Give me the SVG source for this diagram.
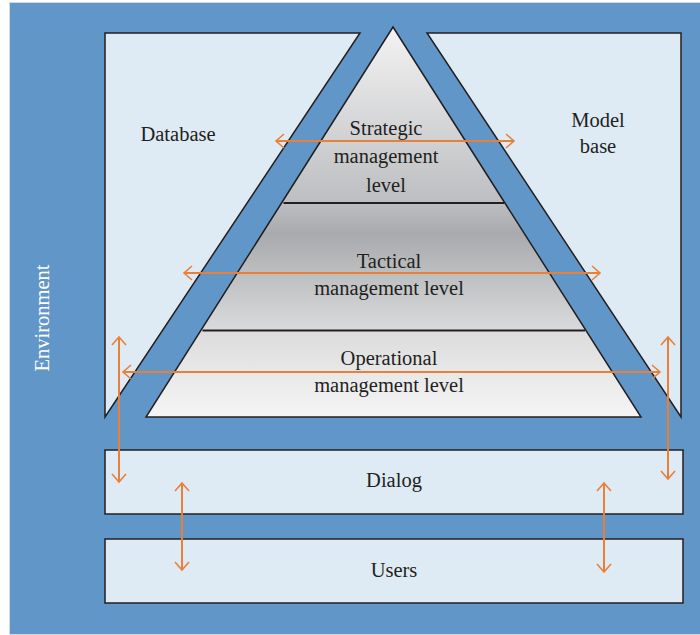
<svg xmlns="http://www.w3.org/2000/svg" width="700" height="635" viewBox="0 0 700 635">
<defs>
<style>
.panel{fill:#deeaf4;stroke:#231f20;stroke-width:1.5}
.sep{stroke:#231f20;stroke-width:2.2}
.lbl{font-family:"Liberation Serif","DejaVu Serif",serif;font-size:20.5px;fill:#231f20;text-anchor:middle}
.arr{stroke:#e8803a;stroke-width:2;fill:none;marker-start:url(#ah);marker-end:url(#ah)}
</style>
<linearGradient id="pg" gradientUnits="userSpaceOnUse" x1="0" y1="27" x2="0" y2="417">
<stop offset="0" stop-color="#f3f3f3"/>
<stop offset="0.451" stop-color="#bdbec1"/>
<stop offset="0.53" stop-color="#a9aaad"/>
<stop offset="0.775" stop-color="#d9dadb"/>
<stop offset="0.78" stop-color="#dcdcdd"/>
<stop offset="1" stop-color="#f5f5f6"/>
</linearGradient>
<marker id="ah" markerUnits="userSpaceOnUse" markerWidth="20" markerHeight="20" refX="0" refY="0" viewBox="-10 -10 20 20" orient="auto-start-reverse" overflow="visible">
<path d="M-8,-7 L0,0 L-8,7" fill="none" stroke="#e8803a" stroke-width="1.6"/>
</marker>
</defs>
<rect x="9.5" y="2.5" width="691" height="632" fill="#6196c8" stroke="#d4d9de" stroke-width="1"/>
<text class="lbl" transform="translate(49,318) rotate(-90)" style="fill:#ffffff">Environment</text>
<g id="database">
<polygon class="panel" points="105,33 360,33 105,417"/>
<text class="lbl" x="178" y="141">Database</text>
</g>
<g id="modelbase">
<polygon class="panel" points="427,33 681,33 681,417"/>
<text class="lbl" x="598" y="127">Model</text>
<text class="lbl" x="598" y="153">base</text>
</g>
<g id="pyramid">
<polygon points="393,27 641,417 146,417" fill="url(#pg)" stroke="#231f20" stroke-width="1.5"/>
<line class="sep" x1="283.5" y1="203" x2="504" y2="203"/>
<line class="sep" x1="202.5" y1="330.5" x2="585" y2="330.5"/>
</g>
<g id="strategic">
<text class="lbl" x="386" y="135">Strategic</text>
<text class="lbl" x="386" y="163">management</text>
<text class="lbl" x="386" y="192">level</text>
</g>
<g id="tactical">
<text class="lbl" x="389" y="268">Tactical</text>
<text class="lbl" x="389" y="295">management level</text>
</g>
<g id="operational">
<text class="lbl" x="389" y="365">Operational</text>
<text class="lbl" x="389" y="392">management level</text>
</g>
<g id="dialog">
<rect class="panel" x="105" y="450" width="578" height="64"/>
<text class="lbl" x="394" y="487">Dialog</text>
</g>
<g id="users">
<rect class="panel" x="105" y="539" width="578" height="64"/>
<text class="lbl" x="394" y="577">Users</text>
</g>
<g id="connectors">
<line class="arr" x1="276" y1="141" x2="514" y2="141"/>
<line class="arr" x1="184" y1="273" x2="600" y2="273"/>
<line class="arr" x1="123" y1="372" x2="660" y2="372"/>
<line class="arr" x1="119" y1="337" x2="119" y2="482"/>
<line class="arr" x1="668" y1="337" x2="668" y2="479"/>
<line class="arr" x1="182" y1="483" x2="182" y2="570"/>
<line class="arr" x1="604" y1="483" x2="604" y2="572"/>
</g>
</svg>
